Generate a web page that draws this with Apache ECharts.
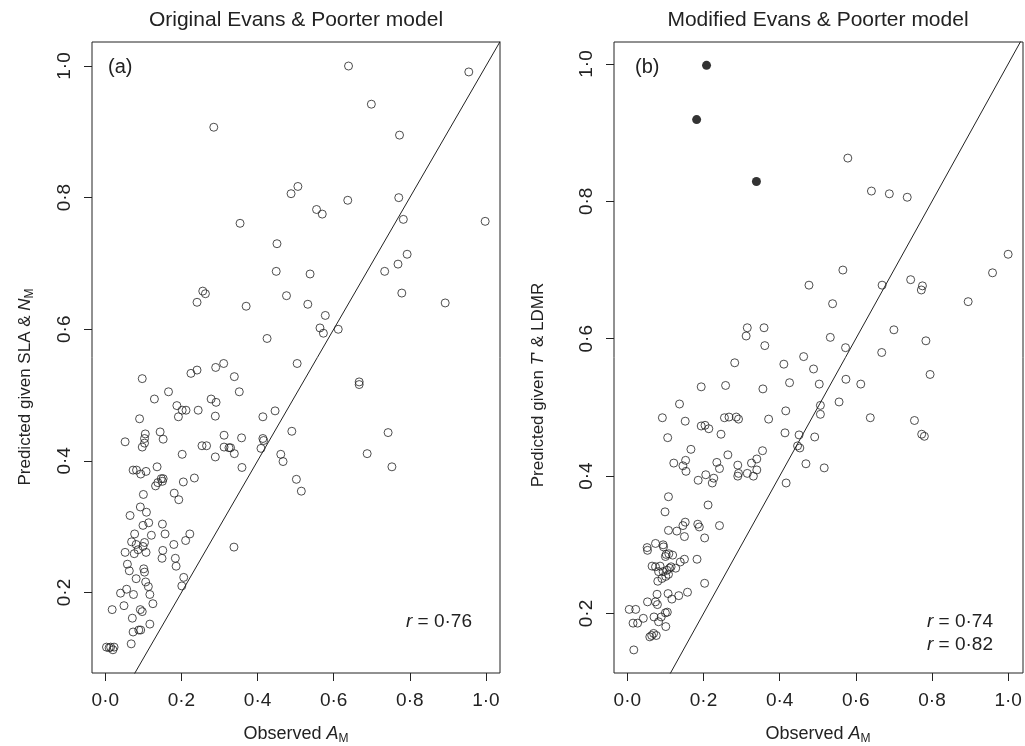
<!DOCTYPE html>
<html>
<head>
<meta charset="utf-8">
<title>Evans & Poorter model</title>
<script src="https://cdn.jsdelivr.net/npm/echarts@6/dist/echarts.min.js"></script>
<style>
  html, body { margin: 0; padding: 0; background: #ffffff; }
  #chart { width: 1025px; height: 746px; }
</style>
</head>
<body>
<div id="chart"></div>
<script>
// (a) original model: observed A_M vs predicted
const observedA = [
  0.639, 0.955, 0.699, 0.285, 0.773, 0.506, 0.488, 0.637, 0.771, 0.555, 0.570, 0.783, 0.998, 0.354, 0.451,
  0.793, 0.769, 0.734, 0.449, 0.538, 0.779, 0.256, 0.263, 0.241, 0.370, 0.476, 0.532, 0.893, 0.578, 0.564,
  0.573, 0.612, 0.425,
  0.504, 0.311, 0.290, 0.241, 0.225, 0.097, 0.339, 0.166, 0.352, 0.129, 0.278, 0.291, 0.188, 0.202, 0.212,
  0.244, 0.446, 0.090, 0.192, 0.289, 0.414, 0.144, 0.105, 0.103, 0.152, 0.052, 0.103, 0.097, 0.312, 0.358,
  0.414, 0.416, 0.409, 0.490, 0.254, 0.266, 0.312, 0.325, 0.329, 0.339, 0.289, 0.202, 0.359, 0.461, 0.467,
  0.502, 0.515, 0.073, 0.082, 0.093, 0.107, 0.136, 0.147, 0.152, 0.150, 0.138, 0.132, 0.205, 0.234, 0.100,
  0.181, 0.193, 0.092, 0.108, 0.065, 0.114, 0.099, 0.150, 0.121, 0.157, 0.222, 0.077, 0.069, 0.081, 0.103,
  0.099, 0.086, 0.052, 0.076, 0.107, 0.180, 0.211, 0.151, 0.149, 0.184, 0.186, 0.338, 0.058, 0.063, 0.101,
  0.103, 0.081, 0.106, 0.113, 0.206, 0.201, 0.056, 0.040, 0.074, 0.117, 0.049, 0.125, 0.018, 0.092, 0.097,
  0.071, 0.117, 0.073, 0.088, 0.093, 0.068, 0.003, 0.014, 0.023, 0.020, 0.010,
  0.667, 0.667, 0.743, 0.688, 0.753
];
const predictedA = [
  1.000, 0.991, 0.942, 0.907, 0.895, 0.817, 0.806, 0.796, 0.800, 0.782, 0.775, 0.767, 0.764, 0.761, 0.730,
  0.714, 0.699, 0.688, 0.688, 0.684, 0.655, 0.658, 0.654, 0.641, 0.635, 0.651, 0.638, 0.640, 0.621, 0.602,
  0.594, 0.600, 0.586,
  0.548, 0.548, 0.542, 0.538, 0.533, 0.525, 0.528, 0.505, 0.505, 0.494, 0.494, 0.489, 0.484, 0.477, 0.477,
  0.477, 0.476, 0.464, 0.467, 0.468, 0.467, 0.444, 0.441, 0.434, 0.433, 0.429, 0.427, 0.421, 0.439, 0.435,
  0.434, 0.431, 0.419, 0.445, 0.423, 0.423, 0.421, 0.420, 0.420, 0.411, 0.406, 0.410, 0.390, 0.410, 0.399,
  0.372, 0.354, 0.386, 0.386, 0.380, 0.384, 0.391, 0.373, 0.373, 0.369, 0.367, 0.362, 0.368, 0.374, 0.349,
  0.351, 0.341, 0.330, 0.322, 0.317, 0.306, 0.302, 0.304, 0.287, 0.289, 0.289, 0.289, 0.277, 0.273, 0.276,
  0.270, 0.265, 0.261, 0.259, 0.261, 0.273, 0.279, 0.264, 0.252, 0.252, 0.240, 0.269, 0.243, 0.233, 0.236,
  0.231, 0.221, 0.216, 0.209, 0.223, 0.210, 0.205, 0.199, 0.197, 0.197, 0.180, 0.183, 0.174, 0.174, 0.171,
  0.161, 0.152, 0.140, 0.143, 0.143, 0.122, 0.117, 0.117, 0.117, 0.113, 0.116,
  0.520, 0.516, 0.443, 0.411, 0.391
];

// (b) modified model
const observedB = [
  0.579, 0.641, 0.688, 0.735, 1.000, 0.959, 0.566, 0.744, 0.775, 0.772, 0.477, 0.669, 0.539, 0.895, 0.315,
  0.359, 0.312, 0.361, 0.533, 0.700, 0.784, 0.573, 0.668, 0.282, 0.411, 0.463, 0.489, 0.795, 0.574,
  0.194, 0.258, 0.356, 0.426, 0.504, 0.556, 0.507, 0.507, 0.416, 0.137, 0.092, 0.152, 0.255, 0.267, 0.286,
  0.292, 0.371, 0.194, 0.204, 0.214, 0.246, 0.414, 0.451, 0.492, 0.106, 0.447, 0.453, 0.167, 0.355, 0.264,
  0.122, 0.153, 0.146, 0.154, 0.235, 0.242, 0.290, 0.326, 0.340, 0.340, 0.315, 0.331, 0.290, 0.292, 0.206,
  0.227, 0.223, 0.186, 0.417, 0.469, 0.517, 0.108, 0.212, 0.099, 0.108, 0.130, 0.146, 0.152, 0.150, 0.185,
  0.189, 0.242, 0.203, 0.052, 0.053, 0.074, 0.094, 0.095, 0.102, 0.100, 0.109, 0.119, 0.065, 0.074, 0.086,
  0.082, 0.094, 0.104, 0.111, 0.115, 0.127, 0.139, 0.150, 0.183, 0.091, 0.080, 0.101, 0.108, 0.203, 0.078,
  0.107, 0.117, 0.135, 0.158, 0.053, 0.074, 0.079, 0.005, 0.022, 0.100, 0.105, 0.070, 0.089, 0.042, 0.015,
  0.027, 0.082, 0.101, 0.059, 0.064, 0.069, 0.076, 0.017,
  0.613, 0.638, 0.754, 0.773, 0.780
];
const predictedB = [
  0.863, 0.815, 0.811, 0.806, 0.723, 0.696, 0.700, 0.686, 0.677, 0.671, 0.678, 0.678, 0.651, 0.654, 0.616,
  0.616, 0.604, 0.590, 0.602, 0.613, 0.597, 0.587, 0.580, 0.565, 0.563, 0.574, 0.556, 0.548, 0.541,
  0.530, 0.532, 0.527, 0.536, 0.534, 0.508, 0.503, 0.490, 0.495, 0.505, 0.485, 0.480, 0.485, 0.486, 0.486,
  0.483, 0.483, 0.473, 0.474, 0.469, 0.461, 0.463, 0.460, 0.457, 0.456, 0.444, 0.441, 0.439, 0.437, 0.431,
  0.419, 0.423, 0.415, 0.407, 0.420, 0.411, 0.416, 0.419, 0.425, 0.409, 0.404, 0.400, 0.400, 0.404, 0.402,
  0.397, 0.390, 0.394, 0.390, 0.418, 0.412, 0.370, 0.358, 0.348, 0.321, 0.320, 0.328, 0.333, 0.312, 0.330,
  0.326, 0.328, 0.310, 0.296, 0.292, 0.302, 0.300, 0.297, 0.286, 0.283, 0.287, 0.285, 0.269, 0.268, 0.269,
  0.261, 0.261, 0.263, 0.266, 0.268, 0.266, 0.275, 0.279, 0.279, 0.251, 0.247, 0.254, 0.257, 0.244, 0.228,
  0.229, 0.221, 0.226, 0.231, 0.217, 0.217, 0.213, 0.206, 0.206, 0.201, 0.202, 0.195, 0.195, 0.193, 0.186,
  0.186, 0.188, 0.181, 0.166, 0.168, 0.171, 0.168, 0.147,
  0.534, 0.485, 0.481, 0.461, 0.458
];
// filled points in (b)
const outlierObservedB = [0.208, 0.182, 0.339];
const outlierPredictedB = [0.998, 0.919, 0.829];

const xTicks = [0, 0.2, 0.4, 0.6, 0.8, 1.0];
const yTicks = [0.2, 0.4, 0.6, 0.8, 1.0];
const oneToOne = [[-0.2, -0.2], [1.2, 1.2]];

const FONT = '"Liberation Sans", Arial, Helvetica, sans-serif';
const INK = '#222222';

const zip = (xs, ys) => xs.map((x, i) => [x, ys[i]]);
const fmt = v => v.toFixed(1).replace('.', '\u00b7');

function makeX(grid, min, max) {
    return {
        type: 'value', gridIndex: grid, min: min, max: max,
        axisLine: { show: false, onZero: false },
        splitLine: { show: false },
        axisTick: { show: true, length: 8, customValues: xTicks, lineStyle: { color: INK, width: 1 } },
        axisLabel: { customValues: xTicks, formatter: fmt, margin: 18, fontSize: 19, color: INK, fontFamily: FONT },
    };
}

function makeY(grid, min, max) {
    return {
        type: 'value', gridIndex: grid, min: min, max: max,
        axisLine: { show: false, onZero: false },
        splitLine: { show: false },
        axisTick: { show: true, length: 8, customValues: yTicks, lineStyle: { color: INK, width: 1 } },
        axisLabel: { customValues: yTicks, formatter: fmt, rotate: 90, margin: 18, fontSize: 19, color: INK, fontFamily: FONT },
    };
}

const openCircle = { color: 'rgba(0,0,0,0)', borderColor: INK, borderWidth: 1 };
const richLabel = {
    i: { fontStyle: 'italic', fontFamily: FONT, fill: INK },
    s: { fontSize: 12, fontFamily: FONT, fill: INK, padding: [10, 0, 0, 0] },
};

function text(x, y, str, size, align, extra) {
    const rich = {
        i: Object.assign({}, richLabel.i, { fontSize: size }),
        s: richLabel.s,
    };
    return Object.assign({
        type: 'text', x: x, y: y, silent: true,
        style: {
            text: str, fontSize: size, fontFamily: FONT, fill: INK,
            align: align, verticalAlign: 'middle', rich: rich,
        },
    }, extra || {});
}

const chart = echarts.init(document.getElementById('chart'), null, { renderer: 'canvas' });

chart.setOption({
    animation: false,
    backgroundColor: '#ffffff',
    grid: [
        { left: 92, top: 42, width: 408, height: 631, show: true, borderColor: INK, borderWidth: 1, backgroundColor: 'transparent', outerBoundsMode: 'none' },
        { left: 614, top: 42, width: 409, height: 631, show: true, borderColor: INK, borderWidth: 1, backgroundColor: 'transparent', outerBoundsMode: 'none' },
    ],
    xAxis: [makeX(0, -0.035, 1.037), makeX(1, -0.035, 1.039)],
    yAxis: [makeY(0, 0.0777, 1.0365), makeY(1, 0.1134, 1.032)],
    series: [
        {
            type: 'line', xAxisIndex: 0, yAxisIndex: 0, data: oneToOne, symbol: 'none', clip: true, silent: true,
            lineStyle: { color: INK, width: 1 },
        },
        {
            type: 'scatter', xAxisIndex: 0, yAxisIndex: 0, data: zip(observedA, predictedA),
            symbol: 'circle', symbolSize: 8, itemStyle: openCircle, silent: true,
        },
        {
            type: 'line', xAxisIndex: 1, yAxisIndex: 1, data: oneToOne, symbol: 'none', clip: true, silent: true,
            lineStyle: { color: INK, width: 1 },
        },
        {
            type: 'scatter', xAxisIndex: 1, yAxisIndex: 1, data: zip(observedB, predictedB),
            symbol: 'circle', symbolSize: 8, itemStyle: openCircle, silent: true,
        },
        {
            type: 'scatter', xAxisIndex: 1, yAxisIndex: 1, data: zip(outlierObservedB, outlierPredictedB),
            symbol: 'circle', symbolSize: 9, itemStyle: { color: '#000000' }, silent: true,
        },
    ],
    graphic: [
        text(296, 20, 'Original Evans & Poorter model', 21, 'center'),
        text(818, 20, 'Modified Evans & Poorter model', 21, 'center'),
        text(108, 67, '(a)', 20, 'left'),
        text(635, 67, '(b)', 20, 'left'),
        text(472, 622, '{i|r} = 0\u00b776', 19, 'right'),
        text(993, 622, '{i|r} = 0\u00b774', 19, 'right'),
        text(993, 645, '{i|r} = 0\u00b782', 19, 'right'),
        text(296, 734, 'Observed {i|A}{s|M}', 18, 'center'),
        text(818, 734, 'Observed {i|A}{s|M}', 18, 'center'),
        text(25, 387, 'Predicted given SLA & {i|N}{s|M}', 17, 'center', { rotation: Math.PI / 2 }),
        text(538, 385, "Predicted given {i|T}' & LDMR", 17, 'center', { rotation: Math.PI / 2 }),
    ],
});
</script>
</body>
</html>
